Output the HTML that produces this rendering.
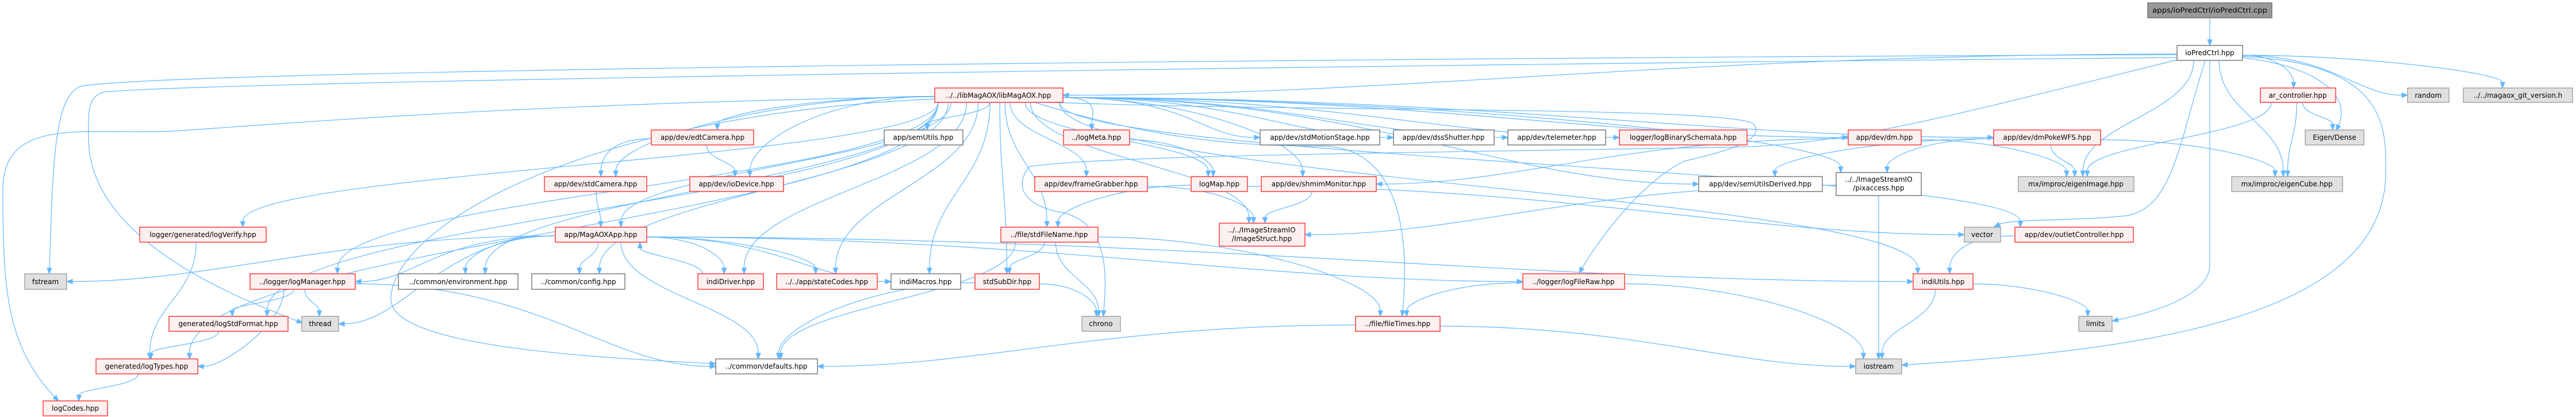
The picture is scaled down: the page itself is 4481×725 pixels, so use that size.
<!DOCTYPE html>
<html><head><meta charset="utf-8"><style>
html,body{margin:0;padding:0;background:#fff;}
svg{display:block;}
text{font-family:"DejaVu Sans","Liberation Sans",sans-serif;font-size:12px;fill:#000;}
.r{fill:#fff0f0;stroke:#ff2020;stroke-width:1.3}
.w{fill:#fff;stroke:#666;stroke-width:1.3}
.g{fill:#e0e0e0;stroke:#999;stroke-width:1.3}
.d{fill:#999;stroke:#666;stroke-width:1.3}
</style></head><body>
<svg id="s" width="4481" height="725" viewBox="0 0 4481 725" xmlns="http://www.w3.org/2000/svg">
<g id="edges" fill="none" stroke="#63b8ff" stroke-width="1.2"></g>
<g id="arrows" fill="#63b8ff" stroke="#63b8ff" stroke-width="1"></g>
<g id="nodes">
<rect class="d" x="3736" y="5" width="216" height="26"/><text x="3844" y="22" text-anchor="middle" textLength="200" lengthAdjust="spacingAndGlyphs">apps/ioPredCtrl/ioPredCtrl.cpp</text>
<rect class="w" x="3787" y="79" width="114" height="26"/><text x="3844" y="96" text-anchor="middle">ioPredCtrl.hpp</text>
<rect class="r" x="1626" y="153" width="223" height="25"/><text x="1737" y="170" text-anchor="middle">../../libMagAOX/libMagAOX.hpp</text>
<rect class="r" x="3932" y="153" width="131" height="25"/><text x="3997" y="170" text-anchor="middle">ar_controller.hpp</text>
<rect class="g" x="4188" y="153" width="72" height="25"/><text x="4224" y="170" text-anchor="middle">random</text>
<rect class="g" x="4285" y="153" width="190" height="25"/><text x="4380" y="170" text-anchor="middle">../../magaox_git_version.h</text>
<rect class="r" x="1133" y="226" width="178" height="26"/><text x="1222" y="243" text-anchor="middle">app/dev/edtCamera.hpp</text>
<rect class="w" x="1538" y="226" width="137" height="26"/><text x="1606" y="243" text-anchor="middle">app/semUtils.hpp</text>
<rect class="r" x="1850" y="226" width="115" height="26"/><text x="1907" y="243" text-anchor="middle">../logMeta.hpp</text>
<rect class="w" x="2192" y="226" width="208" height="26"/><text x="2296" y="243" text-anchor="middle">app/dev/stdMotionStage.hpp</text>
<rect class="w" x="2424" y="226" width="175" height="26"/><text x="2511" y="243" text-anchor="middle">app/dev/dssShutter.hpp</text>
<rect class="w" x="2623" y="226" width="170" height="26"/><text x="2708" y="243" text-anchor="middle">app/dev/telemeter.hpp</text>
<rect class="r" x="2817" y="226" width="222" height="26"/><text x="2928" y="243" text-anchor="middle">logger/logBinarySchemata.hpp</text>
<rect class="r" x="3215" y="226" width="127" height="26"/><text x="3278" y="243" text-anchor="middle">app/dev/dm.hpp</text>
<rect class="r" x="3468" y="226" width="186" height="26"/><text x="3561" y="243" text-anchor="middle">app/dev/dmPokeWFS.hpp</text>
<rect class="g" x="4010" y="226" width="102" height="26"/><text x="4061" y="243" text-anchor="middle">Eigen/Dense</text>
<rect class="r" x="947" y="307" width="178" height="26"/><text x="1036" y="324" text-anchor="middle">app/dev/stdCamera.hpp</text>
<rect class="r" x="1200" y="307" width="163" height="26"/><text x="1281" y="324" text-anchor="middle">app/dev/ioDevice.hpp</text>
<rect class="r" x="1800" y="307" width="196" height="26"/><text x="1898" y="324" text-anchor="middle">app/dev/frameGrabber.hpp</text>
<rect class="r" x="2072" y="307" width="98" height="26"/><text x="2121" y="324" text-anchor="middle">logMap.hpp</text>
<rect class="r" x="2194" y="307" width="200" height="26"/><text x="2294" y="324" text-anchor="middle">app/dev/shmimMonitor.hpp</text>
<rect class="w" x="2955" y="307" width="215" height="26"/><text x="3062" y="324" text-anchor="middle">app/dev/semUtilsDerived.hpp</text>
<rect class="w" x="3194" y="300" width="148" height="40"/><text x="3268" y="316" text-anchor="middle">../../ImageStreamIO</text><text x="3268" y="331" text-anchor="middle">/pixaccess.hpp</text>
<rect class="g" x="3511" y="307" width="201" height="26"/><text x="3611" y="324" text-anchor="middle">mx/improc/eigenImage.hpp</text>
<rect class="g" x="3882" y="307" width="193" height="26"/><text x="3978" y="324" text-anchor="middle">mx/improc/eigenCube.hpp</text>
<rect class="r" x="243" y="395" width="220" height="26"/><text x="353" y="412" text-anchor="middle">logger/generated/logVerify.hpp</text>
<rect class="r" x="966" y="395" width="159" height="26"/><text x="1045" y="412" text-anchor="middle">app/MagAOXApp.hpp</text>
<rect class="r" x="1741" y="395" width="169" height="26"/><text x="1825" y="412" text-anchor="middle">../file/stdFileName.hpp</text>
<rect class="r" x="2121" y="388" width="149" height="40"/><text x="2195" y="404" text-anchor="middle">../../ImageStreamIO</text><text x="2195" y="419" text-anchor="middle">/ImageStruct.hpp</text>
<rect class="g" x="3417" y="395" width="63" height="26"/><text x="3448" y="412" text-anchor="middle">vector</text>
<rect class="r" x="3505" y="395" width="206" height="26"/><text x="3608" y="412" text-anchor="middle">app/dev/outletController.hpp</text>
<rect class="g" x="43" y="476" width="73" height="27"/><text x="79" y="494" text-anchor="middle">fstream</text>
<rect class="r" x="435" y="476" width="183" height="27"/><text x="526" y="494" text-anchor="middle">../logger/logManager.hpp</text>
<rect class="w" x="693" y="476" width="208" height="27"/><text x="797" y="494" text-anchor="middle">../common/environment.hpp</text>
<rect class="w" x="925" y="476" width="162" height="27"/><text x="1006" y="494" text-anchor="middle">../common/config.hpp</text>
<rect class="r" x="1214" y="476" width="114" height="27"/><text x="1271" y="494" text-anchor="middle">indiDriver.hpp</text>
<rect class="r" x="1351" y="476" width="175" height="27"/><text x="1438" y="494" text-anchor="middle">../../app/stateCodes.hpp</text>
<rect class="w" x="1550" y="476" width="121" height="27"/><text x="1610" y="494" text-anchor="middle">indiMacros.hpp</text>
<rect class="r" x="1696" y="476" width="112" height="27"/><text x="1752" y="494" text-anchor="middle">stdSubDir.hpp</text>
<rect class="r" x="2649" y="476" width="177" height="27"/><text x="2737" y="494" text-anchor="middle">../logger/logFileRaw.hpp</text>
<rect class="r" x="3328" y="476" width="104" height="27"/><text x="3380" y="494" text-anchor="middle">indiUtils.hpp</text>
<rect class="r" x="294" y="550" width="207" height="26"/><text x="397" y="567" text-anchor="middle">generated/logStdFormat.hpp</text>
<rect class="g" x="525" y="550" width="64" height="26"/><text x="557" y="567" text-anchor="middle">thread</text>
<rect class="g" x="1882" y="550" width="67" height="26"/><text x="1915" y="567" text-anchor="middle">chrono</text>
<rect class="r" x="2358" y="550" width="147" height="26"/><text x="2431" y="567" text-anchor="middle">../file/fileTimes.hpp</text>
<rect class="g" x="3616" y="550" width="58" height="26"/><text x="3645" y="567" text-anchor="middle">limits</text>
<rect class="r" x="167" y="624" width="177" height="26"/><text x="255" y="641" text-anchor="middle">generated/logTypes.hpp</text>
<rect class="w" x="1245" y="624" width="177" height="26"/><text x="1333" y="641" text-anchor="middle">../common/defaults.hpp</text>
<rect class="g" x="3228" y="624" width="80" height="26"/><text x="3268" y="641" text-anchor="middle">iostream</text>
<rect class="r" x="75" y="697" width="112" height="26"/><text x="131" y="714" text-anchor="middle">logCodes.hpp</text>
</g>
</svg>
<script>
var N={cpp:[3736,3952,5,31],hpp:[3787,3901,79,105],lib:[1626,1849,153,178],ar:[3932,4063,153,178],random:[4188,4260,153,178],git:[4285,4475,153,178],
edt:[1133,1311,226,252],semU:[1538,1675,226,252],meta:[1850,1965,226,252],motion:[2192,2400,226,252],dss:[2424,2599,226,252],tele:[2623,2793,226,252],bin:[2817,3039,226,252],dm:[3215,3342,226,252],poke:[3468,3654,226,252],eigD:[4010,4112,226,252],
stdCam:[947,1125,307,333],io:[1200,1363,307,333],fg:[1800,1996,307,333],map:[2072,2170,307,333],shm:[2194,2394,307,333],semD:[2955,3170,307,333],pix:[3194,3342,300,340],eImg:[3511,3712,307,333],eCube:[3882,4075,307,333],
verify:[243,463,395,421],app:[966,1125,395,421],fname:[1741,1910,395,421],istruct:[2121,2270,388,428],vector:[3417,3480,395,421],outlet:[3505,3711,395,421],
fstream:[43,116,476,503],lmgr:[435,618,476,503],env:[693,901,476,503],cfg:[925,1087,476,503],indiD:[1214,1328,476,503],state:[1351,1526,476,503],macros:[1550,1671,476,503],subdir:[1696,1808,476,503],raw:[2649,2826,476,503],iutils:[3328,3432,476,503],
stdfmt:[294,501,550,576],thread:[525,589,550,576],chrono:[1882,1949,550,576],ftimes:[2358,2505,550,576],limits:[3616,3674,550,576],types:[167,344,624,650],defaults:[1245,1422,624,650],iostream:[3228,3308,624,650],codes:[75,187,697,723]};
var E=[['cpp','hpp'],['hpp','lib','r'],['hpp','ar'],['hpp','random','l'],['hpp','git'],['hpp','eImg'],['hpp','eCube'],
['lib','types'],['lib','verify'],['lib','lmgr'],['lib','stdfmt'],['lib','env'],['lib','cfg'],['lib','stdCam'],['lib','app'],['lib','edt'],['lib','io'],['lib','indiD'],['lib','state'],['lib','macros'],['lib','subdir'],['lib','semU'],['lib','meta'],['lib','fg'],['lib','map'],['lib','fname'],['lib','motion','l'],['lib','dss','l'],['lib','tele','l'],['lib','bin','l'],['lib','shm'],['lib','istruct'],['lib','semD','l'],['lib','dm','l'],['lib','poke','l'],['lib','pix'],['lib','iutils'],['lib','outlet'],
['edt','stdCam'],['edt','io'],['stdCam','app'],
['app','fstream','r'],['app','lmgr','r'],['app','env'],['app','cfg'],['app','thread','r'],['app','defaults'],['app','indiD'],['app','state'],['app','macros','l'],['app','iutils','l'],['app','raw','l'],['indiD','app','u'],
['lmgr','stdfmt'],['lmgr','thread'],['lmgr','types','r'],['lmgr','defaults','l'],['stdfmt','types'],['verify','types'],['types','codes'],
['meta','map'],['map','fname'],['map','vector','l'],['fg','istruct'],['shm','istruct'],['pix','istruct','r'],['pix','iostream'],
['dm','shm','r'],['dm','eImg'],['poke','semD'],['poke','pix'],['poke','eImg'],['poke','eCube'],['ar','eImg'],['ar','eCube'],['ar','eigD'],
['outlet','iutils'],['iutils','limits'],['iutils','iostream'],['subdir','defaults'],['subdir','chrono'],['fname','subdir'],['fname','chrono'],['fname','defaults'],['fname','ftimes'],
['raw','ftimes'],['raw','iostream'],['ftimes','defaults','r'],['ftimes','iostream','l']];
var C=[
[[3787,95],[[2500,100],[300,120],[140,150]],[[92,168],[92,300],[86,466]]],
[[3787,100],[[2500,112],[400,140],[180,160]],[[150,170],[154,200],[154,240]],[[154,420],[420,520],[517,558]]],
[[1626,168],[[900,180],[500,215],[300,228]],[[150,235],[5,200],[5,330]],[[5,500],[10,600],[95,690]]],
[[3787,104],[[3400,200],[3200,255],[3000,256]],[[2500,265],[1900,270],[1790,290]],[[1760,330],[1790,360],[1850,370]],[[1930,390],[1925,480],[1920,540]]],
[[1830,178],[[2300,195],[3000,185],[3050,215]],[[3070,240],[3020,260],[2930,280]],[[2850,320],[2780,420],[2752,466]]],
[[1800,178],[[2000,240],[2150,255],[2300,254]],[[2420,255],[2455,380],[2440,540]]],
[[1626,172],[[1000,200],[680,400],[680,520]],[[680,600],[1000,620],[1235,632]]],
[[3901,98],[[4160,110],[4150,230],[4150,300]],[[4150,560],[3700,610],[3318,634]]],
[[3844,105],[[3844,300],[3844,440],[3844,460]],[[3844,510],[3760,540],[3684,556]]],
[[3836,105],[[3790,250],[3780,360],[3700,375]],[[3600,385],[3500,380],[3478,390]]],
[[3901,100],[[4060,120],[4085,180],[4068,218]]]
];
var eg=document.getElementById('edges'),ag=document.getElementById('arrows'),NS='http://www.w3.org/2000/svg';
function add(d){var p=document.createElementNS(NS,'path');p.setAttribute('d',d);eg.appendChild(p);}
function arrow(cx,cy,ex,ey){var dx=ex-cx,dy=ey-cy,l=Math.hypot(dx,dy)||1;dx/=l;dy/=l;var L=10,W=4;
var bx=ex-dx*L,by=ey-dy*L;var p=document.createElementNS(NS,'polygon');
p.setAttribute('points',ex+','+ey+' '+(bx-dy*W)+','+(by+dx*W)+' '+(bx+dy*W)+','+(by-dx*W));ag.appendChild(p);return [bx,by];}
function f(v){return v.toFixed(1);}
E.forEach(function(e){var s=N[e[0]],t=N[e[1]],m=e[2]||'t';
var scx=(s[0]+s[1])/2,scy=(s[2]+s[3])/2,tcx=(t[0]+t[1])/2,tcy=(t[2]+t[3])/2;
var ex,ey,c2x,c2y,sx,sy,c1x,c1y;
if(m=='u'){sx=Math.min(Math.max(scx+(tcx-scx)*0.3,s[0]+8),s[1]-8);sy=s[2];ex=Math.min(Math.max(tcx+(scx-tcx)*0.3,t[0]+8),t[1]-8);ey=t[3];
 c1x=sx;c1y=sy-(sy-ey)*0.4;c2x=ex;c2y=ey+(sy-ey)*0.4;}
else{
 sx=Math.min(Math.max(scx+(tcx-scx)*0.12,s[0]+6),s[1]-6);sy=s[3];
 var dx=tcx-scx;
 if(m=='t'){ex=Math.min(Math.max(tcx-(tcx-scx)*0.05,t[0]+8),t[1]-8);ey=t[2];}
 else if(m=='l'){ex=t[0];ey=tcy;}
 else if(m=='r'){ex=t[1];ey=tcy;}
 var dy=ey-sy;
 if(Math.abs(dx)>3*Math.abs(dy)&&dy<200){sx=dx<0?s[0]:s[1];sy=scy+ (dx<0?2:4);}
 c1x=sx+(sy==s[3]?0:dx*0.4);c1y=sy+(sy==s[3]?Math.max(dy*0.45,10):0);
 if(m=='t'){c2x=ex;c2y=ey-Math.max((ey-sy)*0.45,10);}
 else if(m=='l'){c2x=ex-Math.max(Math.abs(ex-sx)*0.3,30);c2y=ey;}
 else {c2x=ex+Math.max(Math.abs(ex-sx)*0.3,30);c2y=ey;}
}
var b=arrow(c2x,c2y,ex,ey);
add('M'+f(sx)+','+f(sy)+' C'+f(c1x)+','+f(c1y)+' '+f(c2x)+','+f(c2y)+' '+f(b[0])+','+f(b[1]));});
C.forEach(function(c){var d='M'+c[0][0]+','+c[0][1];for(var i=1;i<c.length;i++){var g=c[i];
if(i==c.length-1){var dx=g[2][0]-g[1][0],dy=g[2][1]-g[1][1],l=Math.hypot(dx,dy)||1;var tip=[g[2][0]+dx/l*10,g[2][1]+dy/l*10];arrow(g[2][0],g[2][1],tip[0],tip[1]);}
d+=' C'+g[0][0]+','+g[0][1]+' '+g[1][0]+','+g[1][1]+' '+g[2][0]+','+g[2][1];}add(d);});
</script>
</body></html>
